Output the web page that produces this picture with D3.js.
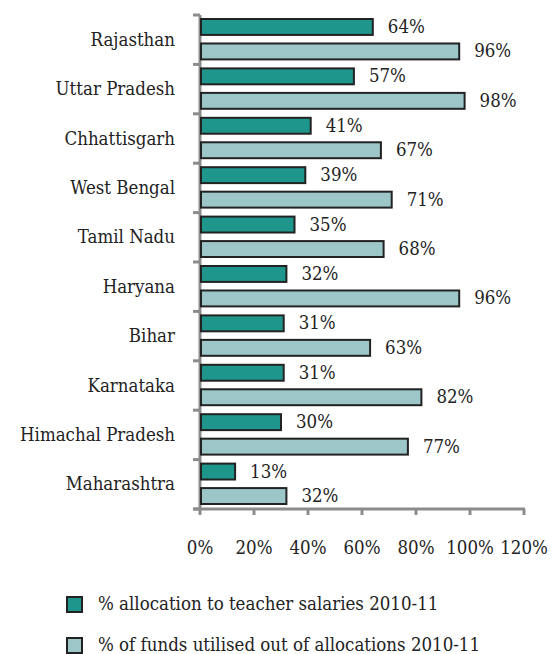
<!DOCTYPE html>
<html>
<head>
<meta charset="utf-8">
<script src="https://cdn.jsdelivr.net/npm/d3@7"></script>
<style>
  body { margin: 0; background: #fff; }
  text { font-family: "DejaVu Serif Condensed", "DejaVu Serif", serif; font-stretch: condensed; fill: #222; }
</style>
</head>
<body>
<div id="chart"></div>
<script>
// data
let states = ["Rajasthan", "Uttar Pradesh", "Chhattisgarh", "West Bengal", "Tamil Nadu",
              "Haryana", "Bihar", "Karnataka", "Himachal Pradesh", "Maharashtra"];
let salaries = [64, 57, 41, 39, 35, 32, 31, 31, 30, 13];
let utilised = [96, 98, 67, 71, 68, 96, 63, 82, 77, 32];
let xTicks = [0, 20, 40, 60, 80, 100, 120];
let seriesNames = ["% allocation to teacher salaries 2010-11",
                   "% of funds utilised out of allocations 2010-11"];
let colors = ["#1f968b", "#9dc6c8"];

let margin = {top: 15, right: 30, bottom: 145, left: 200};
let width = 553 - margin.left - margin.right;
let height = 654 - margin.top - margin.bottom;

let svg = d3.select("#chart")
    .append("svg")
        .attr("width", 553)
        .attr("height", 654)
    .append("g")
        .attr("transform", "translate(" + margin.left + "," + margin.top + ")");

// X axis
let x = d3.scaleLinear()
    .domain([0, 120])
    .range([0, 324]);

// Y axis
let y = d3.scaleBand()
    .domain(states)
    .range([0, height]);

let inner = d3.scaleBand()
    .domain([0, 1])
    .range([4, y.bandwidth() - 5])
    .paddingInner(0.35);

// axis lines
svg.append("line")
    .attr("x1", 0).attr("x2", 0)
    .attr("y1", 0).attr("y2", height)
    .attr("stroke", "#8c8c8c").attr("stroke-width", 3);
svg.append("line")
    .attr("x1", -7).attr("x2", x(120) + 1)
    .attr("y1", height).attr("y2", height)
    .attr("stroke", "#8c8c8c").attr("stroke-width", 3);

// category ticks
let bounds = states.map(function(d) { return y(d); }).concat([height]);
svg.selectAll(".ytick")
    .data(bounds)
    .enter()
    .append("line")
    .attr("x1", -7).attr("x2", 0)
    .attr("y1", function(d) { return d; })
    .attr("y2", function(d) { return d; })
    .attr("stroke", "#8c8c8c").attr("stroke-width", 3);

// x ticks
svg.selectAll(".xtick")
    .data(xTicks)
    .enter()
    .append("line")
    .attr("x1", function(d) { return x(d); })
    .attr("x2", function(d) { return x(d); })
    .attr("y1", height).attr("y2", height + 6)
    .attr("stroke", "#8c8c8c").attr("stroke-width", 3);

svg.selectAll(".xlabel")
    .data(xTicks)
    .enter()
    .append("text")
    .attr("x", function(d) { return x(d); })
    .attr("y", height + 40)
    .attr("text-anchor", "middle")
    .attr("dominant-baseline", "middle")
    .style("font-size", "18.5px")
    .text(function(d) { return d + "%"; });

// category labels
svg.selectAll(".ylabel")
    .data(states)
    .enter()
    .append("text")
    .attr("x", -25)
    .attr("y", function(d) { return y(d) + y.bandwidth() / 2 + 1; })
    .attr("text-anchor", "end")
    .attr("dominant-baseline", "middle")
    .style("font-size", "18.5px")
    .text(function(d) { return d; });

// Bars
let series = [salaries, utilised];
series.forEach(function(vals, s) {
    svg.selectAll(".bar" + s)
        .data(states)
        .enter()
        .append("rect")
        .attr("x", 1)
        .attr("y", function(d) { return y(d) + inner(s); })
        .attr("width", function(d, i) { return x(vals[i]) - 1; })
        .attr("height", inner.bandwidth())
        .attr("fill", colors[s])
        .attr("stroke", "#222")
        .attr("stroke-width", 2);

    svg.selectAll(".val" + s)
        .data(states)
        .enter()
        .append("text")
        .attr("x", function(d, i) { return x(vals[i]) + 15; })
        .attr("y", function(d) { return y(d) + inner(s) + inner.bandwidth() / 2 + 1; })
        .attr("dominant-baseline", "middle")
        .style("font-size", "18.5px")
        .text(function(d, i) { return vals[i] + "%"; });
});

// Legend
let legend = d3.select("svg").append("g");
seriesNames.forEach(function(name, i) {
    legend.append("rect")
        .attr("x", 67).attr("y", 597 + i * 41)
        .attr("width", 15).attr("height", 15)
        .attr("fill", colors[i])
        .attr("stroke", "#222").attr("stroke-width", 2);
    legend.append("text")
        .attr("x", 98).attr("y", 605 + i * 41)
        .attr("dominant-baseline", "middle")
        .style("font-size", "18.5px")
        .text(name);
});
</script>
</body>
</html>
